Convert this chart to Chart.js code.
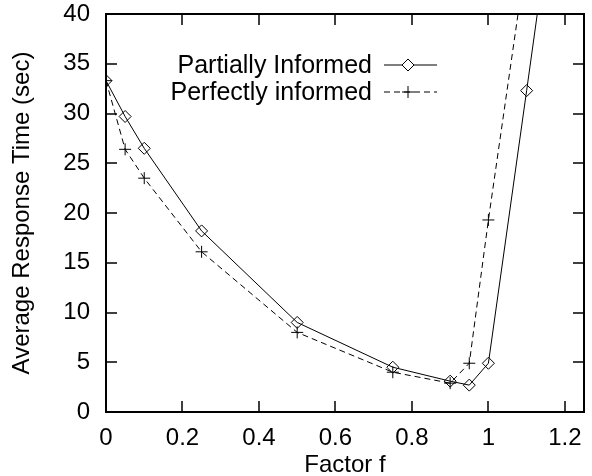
<!DOCTYPE html>
<html>
<head>
<meta charset="utf-8">
<script src="https://cdn.jsdelivr.net/npm/chart.js@4/dist/chart.umd.min.js"></script>
<style>
  html, body { margin: 0; padding: 0; background: #fff; }
  #wrap { width: 592px; height: 476px; }
</style>
</head>
<body>
<div id="wrap"><canvas id="myChart" width="592" height="476"></canvas></div>
<script>
// factor f values and response times
const faktor = [0, 0.05, 0.1, 0.25, 0.5, 0.75, 0.9, 0.95, 1.0, 1.1, 1.2];
const partially = [33.3, 29.7, 26.5, 18.2, 9.0, 4.5, 3.1, 2.7, 4.9, 32.3, 60];
const faktorPerfect = [0, 0.05, 0.1, 0.25, 0.5, 0.75, 0.9, 0.95, 1.0, 1.1];
const perfectly = [33.3, 26.4, 23.5, 16.1, 8.0, 4.0, 2.9, 4.9, 19.3, 46];
const xTicks = [0, 0.2, 0.4, 0.6, 0.8, 1, 1.2];
const yTicks = [0, 5, 10, 15, 20, 25, 30, 35, 40];

const FONT = 'Liberation Sans, Arial, sans-serif';

function toPoints(xs, ys) {
  return xs.map((x, i) => ({ x: x, y: ys[i] }));
}

// gnuplot-like frame with inward ticks on all four sides + legend inside
const framePlugin = {
  id: 'frame',
  afterDraw(chart) {
    const c = chart.ctx;
    const a = chart.chartArea;
    const xs = chart.scales.x, ys = chart.scales.y;
    c.save();
    c.strokeStyle = '#000';
    c.lineWidth = 2;
    c.strokeRect(a.left, a.top, a.right - a.left, a.bottom - a.top);
    c.lineWidth = 1.5;
    c.beginPath();
    xTicks.forEach(v => {
      const px = Math.round(xs.getPixelForValue(v));
      c.moveTo(px, a.bottom); c.lineTo(px, a.bottom - 11);
      c.moveTo(px, a.top); c.lineTo(px, a.top + 11);
    });
    yTicks.forEach(v => {
      const py = Math.round(ys.getPixelForValue(v));
      c.moveTo(a.left, py); c.lineTo(a.left + 11, py);
      c.moveTo(a.right, py); c.lineTo(a.right - 11, py);
    });
    c.stroke();

    // legend
    c.font = '25px ' + FONT;
    c.fillStyle = '#000';
    c.textAlign = 'right';
    c.textBaseline = 'middle';
    const rows = [
      { text: 'Partially Informed', y: 65, dash: [], marker: 'diamond' },
      { text: 'Perfectly informed', y: 92, dash: [6, 4], marker: 'cross' }
    ];
    const mx = 408;
    rows.forEach(r => {
      c.fillText(r.text, 372, r.y + 1);
      c.lineWidth = 1;
      c.setLineDash(r.dash);
      c.beginPath();
      c.moveTo(384, r.y); c.lineTo(437, r.y);
      c.stroke();
      c.setLineDash([]);
      c.beginPath();
      if (r.marker === 'diamond') {
        c.moveTo(mx, r.y - 6); c.lineTo(mx + 6, r.y); c.lineTo(mx, r.y + 6); c.lineTo(mx - 6, r.y); c.closePath();
        c.fillStyle = '#fff'; c.fill(); c.fillStyle = '#000';
      } else {
        c.moveTo(mx - 6, r.y); c.lineTo(mx + 6, r.y);
        c.moveTo(mx, r.y - 6); c.lineTo(mx, r.y + 6);
      }
      c.stroke();
    });
    c.restore();
  }
};

var ctx = document.getElementById('myChart').getContext('2d');

var myChart = new Chart(ctx, {
  type: 'line',
  data: {
    datasets: [{
      label: 'Partially Informed',
      data: toPoints(faktor, partially),
      borderColor: '#000',
      backgroundColor: '#fff',
      borderWidth: 1,
      pointStyle: 'rectRot',
      pointRadius: 6,
      pointBorderWidth: 1,
      pointBackgroundColor: 'rgba(255,255,255,0)',
      tension: 0
    }, {
      label: 'Perfectly informed',
      data: toPoints(faktorPerfect, perfectly),
      borderColor: '#000',
      borderWidth: 1,
      borderDash: [6, 4],
      pointStyle: 'cross',
      pointRadius: 6,
      pointBorderWidth: 1,
      tension: 0
    }]
  },
  options: {
    responsive: false,
    animation: false,
    layout: { padding: { left: 8, right: 8, top: 0, bottom: 0 } },
    plugins: {
      legend: { display: false },
      tooltip: { enabled: false }
    },
    scales: {
      x: {
        type: 'linear',
        min: 0,
        max: 1.25,
        border: { display: false },
        grid: { display: false, drawTicks: false },
        afterBuildTicks: s => { s.ticks = xTicks.map(v => ({ value: v })); },
        ticks: {
          color: '#000',
          padding: 12,
          maxRotation: 0,
          font: { family: FONT, size: 24 },
          callback: v => String(v)
        },
        title: {
          display: true,
          text: 'Factor f',
          color: '#000',
          padding: { top: 0, bottom: -4 },
          font: { family: FONT, size: 24 }
        },
        afterFit: s => { s.height = 476 - 412; s.paddingRight = 0; }
      },
      y: {
        min: 0,
        max: 40,
        border: { display: false },
        grid: { display: false, drawTicks: false },
        afterBuildTicks: s => { s.ticks = yTicks.map(v => ({ value: v })); },
        ticks: {
          color: '#000',
          padding: 16,
          font: { family: FONT, size: 24 }
        },
        title: {
          display: true,
          text: 'Average Response Time (sec)',
          color: '#000',
          padding: { top: 0, bottom: 4 },
          font: { family: FONT, size: 24 }
        },
        afterFit: s => { s.width = 106 - 8; s.paddingTop = 14; s.paddingBottom = 0; }
      }
    }
  },
  plugins: [framePlugin]
});
</script>
</body>
</html>
